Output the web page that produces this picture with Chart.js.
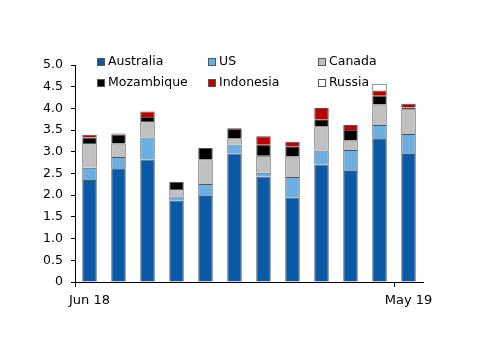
<!DOCTYPE html>
<html>
<head>
<meta charset="utf-8">
<script src="https://cdn.jsdelivr.net/npm/chart.js@4"></script>
<style>
  body { margin: 0; background: #fff; }
</style>
</head>
<body>
<canvas id="exportChart" width="500" height="353"></canvas>
<script>
const months = ['Jun 18', 'Jul 18', 'Aug 18', 'Sep 18', 'Oct 18', 'Nov 18',
    'Dec 18', 'Jan 19', 'Feb 19', 'Mar 19', 'Apr 19', 'May 19'];
const australia  = [2.35, 2.62, 2.82, 1.87, 1.98, 2.96, 2.43, 1.94, 2.71, 2.56, 3.31, 2.95];
const us         = [0.28, 0.26, 0.51, 0.10, 0.28, 0.21, 0.09, 0.48, 0.32, 0.48, 0.31, 0.46];
const canada     = [0.57, 0.31, 0.38, 0.17, 0.57, 0.14, 0.39, 0.47, 0.56, 0.22, 0.47, 0.57];
const mozambique = [0.13, 0.21, 0.09, 0.17, 0.26, 0.22, 0.25, 0.24, 0.16, 0.24, 0.20, 0.04];
const indonesia  = [0.06, 0.02, 0.13, 0.00, 0.00, 0.02, 0.20, 0.10, 0.26, 0.12, 0.12, 0.09];
const russia     = [0, 0, 0, 0, 0, 0, 0, 0, 0, 0, 0.16, 0];
const shownLabels = ['Jun 18', 'May 19'];

const font = { family: 'DejaVu Sans', size: 12.5 };

function series(label, data, color) {
    return { label: label, data: data, backgroundColor: color, borderColor: '#555', borderWidth: 1 };
}

// legend drawn as a fixed 3-column grid, like the original
const gridLegend = {
    id: 'gridLegend',
    afterDraw(chart) {
        const c = chart.ctx;
        const cols = [97, 208, 318];
        const rows = [62, 83];
        c.save();
        c.font = font.size + 'px ' + font.family;
        c.textBaseline = 'middle';
        chart.data.datasets.forEach((ds, i) => {
            const x = cols[i % 3];
            const y = rows[Math.floor(i / 3)];
            c.fillStyle = ds.backgroundColor;
            c.fillRect(x, y - 4, 8, 8);
            c.strokeStyle = '#555';
            c.lineWidth = 1;
            c.strokeRect(x + 0.5, y - 3.5, 7, 7);
            c.fillStyle = '#000';
            c.fillText(ds.label, x + 11, y);
        });
        c.restore();
    }
};

const ctx = document.getElementById('exportChart').getContext('2d');
const exportChart = new Chart(ctx, {
    type: 'bar',
    data: {
        labels: months,
        datasets: [
            series('Australia', australia, '#0a5aa8'),
            series('US', us, '#6aaee2'),
            series('Canada', canada, '#c0c0c0'),
            series('Mozambique', mozambique, '#000000'),
            series('Indonesia', indonesia, '#c00000'),
            series('Russia', russia, '#ffffff')
        ]
    },
    options: {
        responsive: false,
        animation: false,
        layout: { padding: { top: 65, right: 77, left: 0, bottom: 0 } },
        datasets: { bar: { categoryPercentage: 1, barPercentage: 0.5 } },
        plugins: {
            legend: { display: false },
            tooltip: { enabled: false }
        },
        scales: {
            x: {
                stacked: true,
                afterFit: s => { s.height = 71; },
                border: { color: '#000' },
                grid: {
                    offset: true,
                    drawOnChartArea: false,
                    tickLength: 5,
                    color: c => (c.index === 0 || c.index === 11) ? '#000' : 'rgba(0,0,0,0)'
                },
                ticks: {
                    autoSkip: false,
                    maxRotation: 0,
                    color: '#000',
                    font: { family: 'DejaVu Sans', size: 13 },
                    padding: 6,
                    callback: function (v, i) {
                        const l = this.getLabelForValue(v);
                        return shownLabels.includes(l) ? l : '';
                    }
                }
            },
            y: {
                stacked: true,
                min: 0,
                max: 5,
                afterFit: s => { s.width = 75; },
                border: { color: '#000' },
                grid: { drawOnChartArea: false, tickLength: 4, color: '#000' },
                ticks: {
                    stepSize: 0.5,
                    color: '#000',
                    font: font,
                    padding: 8,
                    callback: v => v === 0 ? '0' : v.toFixed(1)
                }
            }
        }
    },
    plugins: [gridLegend]
});
</script>
</body>
</html>
